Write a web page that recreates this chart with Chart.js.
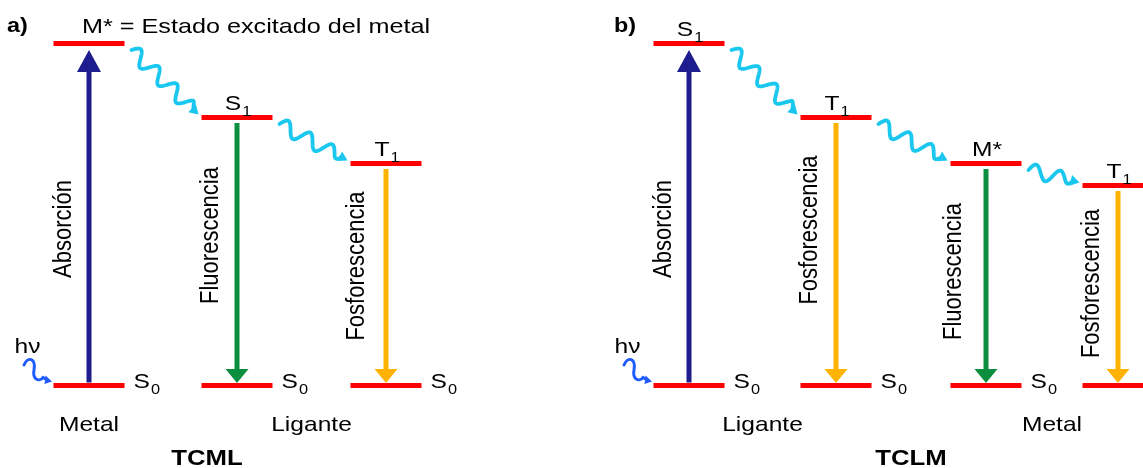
<!DOCTYPE html>
<html>
<head>
<meta charset="utf-8">
<script src="https://cdn.jsdelivr.net/npm/chart.js@4"></script>
<style>
  html, body { margin: 0; padding: 0; background: #ffffff; }
  #wrap { width: 1143px; height: 468px; }
  canvas { display: block; }
</style>
</head>
<body>
<div id="wrap"><canvas id="c" width="1143" height="468" style="width:1143px;height:468px"></canvas></div>
<script>
// ---- Diagram data: energies of the excited states (arbitrary units above S0) ----
const statesA = ['M*', 'S1', 'T1'];
const energiesA = [342, 268, 222];
const transitionsA = ['Absorción', 'Fluorescencia', 'Fosforescencia'];
const groupsA = ['Metal', 'Ligante'];

const statesB = ['S1', 'T1', 'M*', 'T1'];
const energiesB = [342, 268, 222, 200];
const transitionsB = ['Absorción', 'Fosforescencia', 'Fluorescencia', 'Fosforescencia'];
const groupsB = ['Ligante', 'Metal'];

const groundState = 'S0';
const groundEnergy = 0;
const titles = ['TCML', 'TCLM'];
const panelTags = ['a)', 'b)'];
const headlineA = '= Estado excitado del metal';
const photonLabel = 'hν';

// ---- Layout (positions in axis units / pixels) ----
const layout = {
  colX: [[89, 237, 386], [689, 836, 986, 1118]],
  levelHalf: 35.5,
  groupCols: [[[0], [1, 2]], [[0, 1], [2, 3]]],
  // rotated transition labels: centre height (energy units) and shift from arrow
  labelE: [[156.5, 150, 119.5], [156.5, 155.5, 114, 102]],
  labelDx: [[-25, -26, -29], [-25.5, -26.5, -32, -26]],
  titleX: [207, 911],
  tagX: [7, 614],
  headlineX: 82
};

const COLORS = {
  level: '#ff0000',
  'Absorción': '#1d1d8f',
  'Fluorescencia': '#0b8e3d',
  'Fosforescencia': '#ffb300',
  wave: '#19c7ef',
  photon: '#1f5bff',
  text: '#000000'
};
const FONT = "'Liberation Sans', Arial, sans-serif";
const STRETCH = 1.17;

const panels = [
  { states: statesA, energies: energiesA, transitions: transitionsA, groups: groupsA },
  { states: statesB, energies: energiesB, transitions: transitionsB, groups: groupsB }
];

// Energy-level bars: one short horizontal line per state
const datasets = [];
panels.forEach((p, pi) => {
  p.energies.forEach((e, ci) => {
    const cx = layout.colX[pi][ci];
    [e, groundEnergy].forEach(val => {
      datasets.push({
        data: [{ x: cx - layout.levelHalf, y: val }, { x: cx + layout.levelHalf, y: val }],
        showLine: true,
        borderColor: COLORS.level,
        borderWidth: 5,
        borderCapStyle: 'butt',
        pointRadius: 0,
        fill: false
      });
    });
  });
});

function drawText(ctx, str, x, y, size, opts = {}) {
  ctx.save();
  ctx.font = (opts.bold ? 'bold ' : '') + size + 'px ' + FONT;
  ctx.fillStyle = COLORS.text;
  ctx.textAlign = opts.align || 'left';
  ctx.textBaseline = opts.baseline || 'alphabetic';
  ctx.translate(x, y);
  ctx.scale(opts.stretch || STRETCH, 1);
  if (opts.rotate) ctx.rotate(opts.rotate);
  ctx.fillText(str, 0, 0);
  ctx.restore();
}

// State symbol with trailing digits as subscript; align: 'center' or 'left'
function stateLabel(ctx, label, x, baseY, align) {
  const m = label.match(/^(.*?)(\d+)$/);
  const main = m ? m[1] : label;
  const sub = m ? m[2] : '';
  ctx.save();
  ctx.font = '21px ' + FONT;
  const mw = ctx.measureText(main).width * STRETCH;
  ctx.font = '14px ' + FONT;
  const sw = sub ? ctx.measureText(sub).width * STRETCH + 1 : 0;
  ctx.restore();
  const x0 = align === 'center' ? x - (mw + sw) / 2 : x;
  drawText(ctx, main, x0, baseY, 21);
  if (sub) drawText(ctx, sub, x0 + mw + 1, baseY + 6, 14);
}

function verticalArrow(ctx, x, yFrom, yTo, color, headLen, headW, lw) {
  const dir = yTo > yFrom ? 1 : -1;
  ctx.save();
  ctx.strokeStyle = color;
  ctx.fillStyle = color;
  ctx.lineWidth = lw;
  ctx.beginPath();
  ctx.moveTo(x, yFrom);
  ctx.lineTo(x, yTo - dir * headLen + dir);
  ctx.stroke();
  ctx.beginPath();
  ctx.moveTo(x, yTo);
  ctx.lineTo(x - headW / 2, yTo - dir * headLen);
  ctx.lineTo(x + headW / 2, yTo - dir * headLen);
  ctx.closePath();
  ctx.fill();
  ctx.restore();
}

// Radiationless (wavy) transfer arrow between two points
function wavyArrow(ctx, x0, y0, x1, y1) {
  const dx = x1 - x0, dy = y1 - y0;
  const L = Math.hypot(dx, dy);
  const ux = dx / L, uy = dy / L;
  const nx = -uy, ny = ux;
  const head = 9, wl = 25, amp = 7;
  const Lw = L - head + 2;
  ctx.save();
  ctx.strokeStyle = COLORS.wave;
  ctx.fillStyle = COLORS.wave;
  ctx.lineWidth = 3.8;
  ctx.lineCap = 'round';
  ctx.lineJoin = 'round';
  ctx.beginPath();
  for (let t = 0; t <= Lw; t += 0.5) {
    const taper = Math.min(1, (Lw - t) / 7 + 0.1);
    const off = -amp * Math.sin(2 * Math.PI * t / wl) * taper;
    const px = x0 + ux * t + nx * off;
    const py = y0 + uy * t + ny * off;
    if (t === 0) ctx.moveTo(px, py); else ctx.lineTo(px, py);
  }
  ctx.stroke();
  const bx = x1 - ux * head, by = y1 - uy * head;
  ctx.beginPath();
  ctx.moveTo(x1, y1);
  ctx.lineTo(bx + nx * 5.5, by + ny * 5.5);
  ctx.lineTo(bx - nx * 5.5, by - ny * 5.5);
  ctx.closePath();
  ctx.fill();
  ctx.restore();
}

// Incoming photon squiggle ending at the left end of the ground level
function photon(ctx, xL, yG) {
  ctx.save();
  ctx.strokeStyle = COLORS.photon;
  ctx.fillStyle = COLORS.photon;
  ctx.lineWidth = 3;
  ctx.lineCap = 'round';
  ctx.beginPath();
  ctx.moveTo(xL - 29.5, yG - 20.5);
  ctx.bezierCurveTo(xL - 25.5, yG - 29.5, xL - 17.5, yG - 27.5, xL - 19.5, yG - 15.5);
  ctx.bezierCurveTo(xL - 21.5, yG - 5.5, xL - 13.5, yG - 3.5, xL - 10.5, yG - 8);
  ctx.lineTo(xL - 7, yG - 6);
  ctx.stroke();
  ctx.beginPath();
  ctx.moveTo(xL - 1.5, yG - 4);
  ctx.lineTo(xL - 8, yG - 10);
  ctx.lineTo(xL - 9, yG - 1.5);
  ctx.closePath();
  ctx.fill();
  ctx.restore();
  drawText(ctx, photonLabel, xL - 39, yG - 33, 21);
}

const diagramPlugin = {
  id: 'diagram',
  afterDatasetsDraw(chart) {
    const { ctx, scales: { x, y } } = chart;
    const yG = y.getPixelForValue(groundEnergy);
    panels.forEach((p, pi) => {
      const cols = layout.colX[pi];
      p.energies.forEach((e, ci) => {
        const px = x.getPixelForValue(cols[ci]);
        const yE = y.getPixelForValue(e);
        const name = p.transitions[ci];
        const color = COLORS[name];
        if (ci === 0) {
          verticalArrow(ctx, px, yG - 3, yE + 6.5, color, 22, 24, 5);
        } else {
          verticalArrow(ctx, px, yE + 5.5, yG - 2.5, color, 14, 23, 5);
        }
        // rotated transition name
        const ly = y.getPixelForValue(layout.labelE[pi][ci]);
        drawText(ctx, name, px + layout.labelDx[pi][ci], ly, 22,
          { align: 'center', baseline: 'middle', rotate: -Math.PI / 2 });
        // state labels
        if (pi === 0 && ci === 0) {
          drawText(ctx, p.states[0] + ' ' + headlineA, layout.headlineX, 33, 21, { stretch: 1.2 });
        } else {
          stateLabel(ctx, p.states[ci], px + 1, yE - 7.5, 'center');
        }
        const rightEnd = x.getPixelForValue(cols[ci] + layout.levelHalf);
        stateLabel(ctx, groundState, rightEnd + 9, yG + 2.5, 'left');
        // wavy transfer to the next (lower) state
        if (ci < p.energies.length - 1) {
          const xs = x.getPixelForValue(cols[ci] + layout.levelHalf) + 7;
          const xe = x.getPixelForValue(cols[ci + 1] - layout.levelHalf) - 3;
          wavyArrow(ctx, xs, yE + 6.5, xe, y.getPixelForValue(p.energies[ci + 1]) - 3);
        }
      });
      photon(ctx, x.getPixelForValue(cols[0] - layout.levelHalf), yG);
      // group names under the ground levels
      p.groups.forEach((g, gi) => {
        const idx = layout.groupCols[pi][gi];
        const gx = idx.reduce((s, k) => s + x.getPixelForValue(cols[k]), 0) / idx.length;
        drawText(ctx, g, gx, 431, 21, { align: 'center' });
      });
      drawText(ctx, titles[pi], layout.titleX[pi], 465, 22, { align: 'center', bold: true });
      drawText(ctx, panelTags[pi], layout.tagX[pi], 32, 20, { bold: true });
    });
  }
};

new Chart(document.getElementById('c'), {
  type: 'scatter',
  data: { datasets },
  options: {
    responsive: false,
    animation: false,
    events: [],
    layout: { padding: 0 },
    plugins: { legend: { display: false }, tooltip: { enabled: false } },
    scales: {
      x: { type: 'linear', display: false, min: 0, max: 1143 },
      y: { type: 'linear', display: false, min: -82.5, max: 385.5 }
    }
  },
  plugins: [diagramPlugin]
});
</script>
</body>
</html>
